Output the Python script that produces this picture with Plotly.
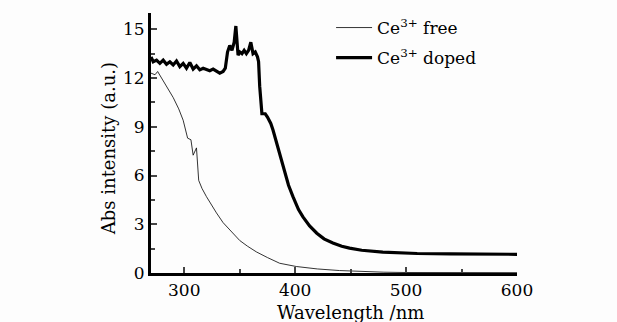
import plotly.graph_objects as go

# Ce3+ free (thin line)
free_x = [270, 273.6, 276, 282, 290, 295, 299, 303, 306, 308, 311, 313, 316, 320, 325, 329, 335, 341,
          350, 357, 365, 375, 386, 401, 420, 440, 460, 480, 500, 550, 600]
free_y = [12.3, 12.2, 12.4, 11.7, 10.8, 10.1, 9.4, 8.3, 8.2, 7.25, 7.7, 5.7, 5.2, 4.7, 4.1, 3.7, 3.1, 2.65,
          2.0, 1.65, 1.3, 0.95, 0.6, 0.4, 0.25, 0.15, 0.08, 0.05, 0.03, 0.02, 0.02]

# Ce3+ doped (thick line)
doped_x = [270, 272, 275, 278, 281, 284, 287, 290, 293, 296, 299, 302, 305, 308, 311, 314, 317, 320,
           323, 326, 329, 332, 335, 337, 339, 341, 343, 345, 346.5, 347.5, 348.5, 350, 352, 354, 356,
           358, 360, 362, 364, 366, 367, 368, 370, 371, 373, 375, 378, 380, 384, 389, 394, 398, 403,
           407, 413, 419.5, 426, 434, 442, 449, 460, 479, 495, 510, 540, 570, 600]
doped_y = [13.3, 13.0, 13.1, 12.9, 13.1, 12.85, 13.0, 12.8, 13.05, 12.7, 12.9, 12.6, 12.95, 12.55, 12.75,
           12.5, 12.6, 12.5, 12.45, 12.55, 12.4, 12.3, 12.4, 12.6, 13.6, 14.0, 13.7, 14.2, 15.2, 14.0,
           13.4, 13.6, 13.5, 13.7, 13.5, 13.7, 14.2, 13.5, 13.6, 13.3, 13.0, 11.5, 9.8, 9.8, 9.8,
           9.6, 9.2, 8.8, 7.8, 6.5, 5.4, 4.7, 3.9, 3.45, 2.9, 2.45, 2.1, 1.85, 1.65, 1.53, 1.4, 1.28,
           1.24, 1.2, 1.18, 1.16, 1.15]

x_ticks = [300, 400, 500, 600]
y_ticks = [0, 3, 6, 9, 12, 15]

FONT = "DejaVu Serif"

fig = go.Figure()
fig.add_trace(go.Scatter(x=free_x, y=free_y, mode="lines", name="Ce<sup>3+</sup> free",
                         legendgroup="a", line=dict(color="black", width=0.8)))
fig.add_trace(go.Scatter(x=doped_x, y=doped_y, mode="lines", name="Ce<sup>3+</sup> doped",
                         legendgroup="b", line=dict(color="black", width=3.2)))

fig.update_layout(
    width=617, height=322,
    margin=dict(l=151, r=100, t=13, b=49, autoexpand=False),
    paper_bgcolor="#fdfdfd", plot_bgcolor="#fdfdfd",
    font=dict(family=FONT, size=17, color="black"),
    showlegend=True,
    legend=dict(x=0.492, y=1.0115, xanchor="left", yanchor="top", bgcolor="rgba(0,0,0,0)",
                font=dict(family=FONT, size=17), itemwidth=36, tracegroupgap=5),
    xaxis=dict(range=[270, 600], tickvals=x_ticks, ticks="inside", ticklen=6, tickwidth=2,
               showline=True, linewidth=3, linecolor="black", showgrid=False, zeroline=False,
               automargin=False,
               minor=dict(tickvals=[350, 450, 550], ticks="inside", ticklen=4, tickwidth=2),
               tickfont=dict(family=FONT, size=17)),
    yaxis=dict(range=[0, 16], tickvals=y_ticks, ticks="inside", ticklen=6, tickwidth=2,
               showline=True, linewidth=3, linecolor="black", showgrid=False, zeroline=False,
               automargin=False,
               minor=dict(tickvals=[1.5, 4.5, 7.5, 10.5, 13.5], ticks="inside", ticklen=4, tickwidth=2),
               tickfont=dict(family=FONT, size=17)),
    annotations=[
        dict(text="Wavelength /nm", xref="paper", yref="paper", x=0.546, y=-0.15,
             xanchor="center", yanchor="middle", showarrow=False, font=dict(family=FONT, size=18)),
        dict(text="Abs intensity (a.u.)", xref="paper", yref="paper", x=-0.1175, y=0.48,
             xanchor="center", yanchor="middle", textangle=-90, showarrow=False,
             font=dict(family=FONT, size=18)),
    ],
)

fig.write_html("out.html")
